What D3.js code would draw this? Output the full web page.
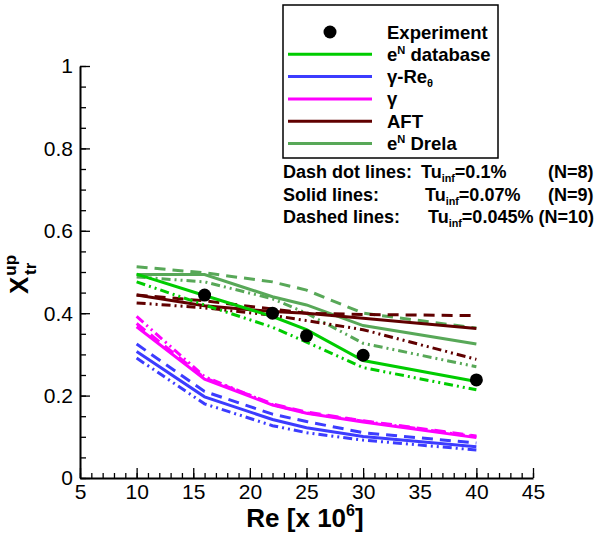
<!DOCTYPE html>
<html>
<head>
<meta charset="utf-8">
<script src="https://cdn.jsdelivr.net/npm/d3@7"></script>
<style>
  html, body { margin: 0; padding: 0; background: #fff; }
  svg { display: block; font-family: "Liberation Sans", Arial, sans-serif; }
</style>
</head>
<body>
<div id="chart"></div>
<script>
// Re values where every model curve was computed
const reValues = [10, 16, 22, 25, 30, 40];

// experiment
const expRe = [16, 22, 25, 30, 40];
const expX = [0.444, 0.40, 0.345, 0.298, 0.238];

// model curves (solid: N=9, dashed: N=10, dash-dot: N=8)
const enDbSolid = [0.495, 0.443, 0.392, 0.36, 0.285, 0.234];
const enDbDashDot = [0.476, 0.42, 0.366, 0.33, 0.268, 0.214];
const gammaReSolid = [0.307, 0.197, 0.142, 0.122, 0.101, 0.076];
const gammaReDashed = [0.325, 0.21, 0.155, 0.137, 0.11, 0.085];
const gammaReDashDot = [0.291, 0.18, 0.127, 0.11, 0.092, 0.068];
const gammaSolid = [0.367, 0.24, 0.177, 0.157, 0.136, 0.098];
const gammaDashed = [0.375, 0.243, 0.18, 0.16, 0.139, 0.102];
const gammaDashDot = [0.392, 0.246, 0.178, 0.158, 0.138, 0.1];
const aftSolid = [0.444, 0.418, 0.404, 0.40, 0.388, 0.363];
const aftDashed = [0.444, 0.43, 0.41, 0.40, 0.397, 0.394];
const aftDashDot = [0.425, 0.413, 0.395, 0.382, 0.36, 0.288];
const drelaSolid = [0.494, 0.494, 0.44, 0.42, 0.37, 0.325];
const drelaDashed = [0.513, 0.498, 0.476, 0.456, 0.40, 0.364];
const drelaDashDot = [0.488, 0.476, 0.435, 0.40, 0.327, 0.27];

const xTicks = [5, 10, 15, 20, 25, 30, 35, 40, 45];
const yTicks = [0, 0.2, 0.4, 0.6, 0.8, 1];
const yTickLabels = ['0', '0.2', '0.4', '0.6', '0.8', '1'];

const COLORS = {
  enDb: '#00cc00',
  gammaRe: '#3c3cff',
  gamma: '#ff00ff',
  aft: '#600000',
  drela: '#58a858'
};
const DASHED = '11,7';
const DASHDOT = '9,4,2,4,2,4';

const series = [
  { vals: drelaDashed, color: COLORS.drela, dash: DASHED },
  { vals: drelaSolid, color: COLORS.drela, dash: null },
  { vals: drelaDashDot, color: COLORS.drela, dash: DASHDOT },
  { vals: aftDashed, color: COLORS.aft, dash: DASHED },
  { vals: aftSolid, color: COLORS.aft, dash: null },
  { vals: aftDashDot, color: COLORS.aft, dash: DASHDOT },
  { vals: enDbSolid, color: COLORS.enDb, dash: null },
  { vals: enDbDashDot, color: COLORS.enDb, dash: DASHDOT },
  { vals: gammaDashDot, color: COLORS.gamma, dash: DASHDOT },
  { vals: gammaDashed, color: COLORS.gamma, dash: DASHED },
  { vals: gammaSolid, color: COLORS.gamma, dash: null },
  { vals: gammaReDashed, color: COLORS.gammaRe, dash: DASHED },
  { vals: gammaReSolid, color: COLORS.gammaRe, dash: null },
  { vals: gammaReDashDot, color: COLORS.gammaRe, dash: DASHDOT }
];

const width = 600, height = 541;
const svg = d3.select('#chart').append('svg')
  .attr('width', width).attr('height', height);

const x = d3.scaleLinear().domain([5, 45]).range([80, 533]);
const y = d3.scaleLinear().domain([0, 1]).range([478, 66]);

// minor ticks
svg.append('g')
  .attr('transform', `translate(0,${y(0)})`)
  .call(d3.axisBottom(x).tickValues(d3.range(5, 46, 1)).tickSizeInner(-5).tickSizeOuter(0).tickFormat(''))
  .call(g => g.select('.domain').remove());
svg.append('g')
  .attr('transform', `translate(${x(5)},0)`)
  .call(d3.axisLeft(y).tickValues(d3.range(0, 1.001, 0.05)).tickSizeInner(-6).tickSizeOuter(0).tickFormat(''))
  .call(g => g.select('.domain').remove());

// major axes
const xAxis = svg.append('g')
  .attr('transform', `translate(0,${y(0)})`)
  .call(d3.axisBottom(x).tickValues(xTicks).tickSizeInner(-10).tickSizeOuter(0).tickPadding(6));
const yAxis = svg.append('g')
  .attr('transform', `translate(${x(5)},0)`)
  .call(d3.axisLeft(y).tickValues(yTicks).tickSizeInner(-10).tickSizeOuter(0).tickPadding(7)
    .tickFormat((d, i) => yTickLabels[i]));

svg.selectAll('.tick line').attr('stroke', '#000').attr('stroke-width', 1.3);
[xAxis, yAxis].forEach(a => {
  a.select('.domain').attr('stroke', '#000').attr('stroke-width', 2);
  a.selectAll('text').attr('font-size', 21).attr('fill', '#000')
    .attr('font-family', '"Liberation Sans", Arial, sans-serif');
});
xAxis.selectAll('text').attr('dy', '0.7em');
yAxis.selectAll('text').attr('dy', '0.33em');

// axis titles
svg.append('text')
  .attr('x', 305).attr('y', 527)
  .attr('text-anchor', 'middle')
  .attr('font-size', 26).attr('font-weight', 'bold')
  .call(t => {
    t.append('tspan').text('Re [x 10');
    t.append('tspan').attr('font-size', 16).attr('dy', -11).text('6');
    t.append('tspan').attr('dy', 11).text(']');
  });

svg.append('text')
  .attr('transform', 'translate(28,294) rotate(-90)')
  .attr('font-size', 26).attr('font-weight', 'bold')
  .call(t => {
    t.append('tspan').text('X');
    t.append('tspan').attr('font-size', 17).attr('dy', -12).attr('dx', 1).text('up');
    t.append('tspan').attr('font-size', 17).attr('dx', -20).attr('dy', 20).text('tr');
  });

// curves
const line = d3.line()
  .x((d, i) => x(reValues[i]))
  .y(d => y(d));

svg.append('g').selectAll('path')
  .data(series)
  .join('path')
  .attr('d', d => line(d.vals))
  .attr('fill', 'none')
  .attr('stroke', d => d.color)
  .attr('stroke-width', 3)
  .attr('stroke-dasharray', d => d.dash);

// experiment points
svg.append('g').selectAll('circle')
  .data(expRe.map((r, i) => [r, expX[i]]))
  .join('circle')
  .attr('cx', d => x(d[0]))
  .attr('cy', d => y(d[1]))
  .attr('r', 6.5)
  .attr('fill', '#000');

// legend
const legend = svg.append('g');
legend.append('rect')
  .attr('x', 283).attr('y', 5)
  .attr('width', 215).attr('height', 153)
  .attr('fill', '#fff').attr('stroke', '#000').attr('stroke-width', 1.5);

const legendItems = [
  { label: [['Experiment']], marker: true },
  { label: [['e'], ['N', 'sup'], [' database']], color: COLORS.enDb },
  { label: [['γ-Re'], ['θ', 'sub']], color: COLORS.gammaRe },
  { label: [['γ']], color: COLORS.gamma },
  { label: [['AFT']], color: COLORS.aft },
  { label: [['e'], ['N', 'sup'], [' Drela']], color: COLORS.drela }
];

legendItems.forEach((item, i) => {
  const cy = 32 + i * 22.3;
  if (item.marker) {
    legend.append('circle').attr('cx', 330).attr('cy', cy).attr('r', 6.5).attr('fill', '#000');
  } else {
    legend.append('line')
      .attr('x1', 288).attr('x2', 372).attr('y1', cy).attr('y2', cy)
      .attr('stroke', item.color).attr('stroke-width', 3);
  }
  const t = legend.append('text')
    .attr('x', 387).attr('y', cy + 6.5)
    .attr('font-size', 18.5).attr('font-weight', 'bold');
  addRich(t, item.label);
});

function addRich(t, parts) {
  let shift = 0;
  parts.forEach(([txt, kind]) => {
    const target = kind === 'sup' ? -7 : kind === 'sub' ? 4 : 0;
    const ts = t.append('tspan').attr('dy', target - shift).text(txt);
    if (kind) ts.attr('font-size', '0.6em');
    shift = target;
  });
}

// Tu annotations
const notes = [
  { lead: 'Dash dot lines:', tuX: 421, tu: '=0.1%', n: '(N=8)', nX: 548 },
  { lead: 'Solid lines:', tuX: 425, tu: '=0.07%', n: '(N=9)', nX: 548 },
  { lead: 'Dashed lines:', tuX: 428, tu: '=0.045%', n: '(N=10)', nX: null }
];
notes.forEach((d, i) => {
  const yy = 178 + i * 22.5;
  const g = svg.append('g').attr('font-size', 18).attr('font-weight', 'bold');
  g.append('text').attr('x', 283).attr('y', yy).text(d.lead);
  const t = g.append('text').attr('x', d.tuX).attr('y', yy);
  addRich(t, [['Tu'], ['inf', 'sub'], [d.tu + (d.nX === null ? ' ' + d.n : '')]]);
  if (d.nX !== null) g.append('text').attr('x', d.nX).attr('y', yy).text(d.n);
});
</script>
</body>
</html>
